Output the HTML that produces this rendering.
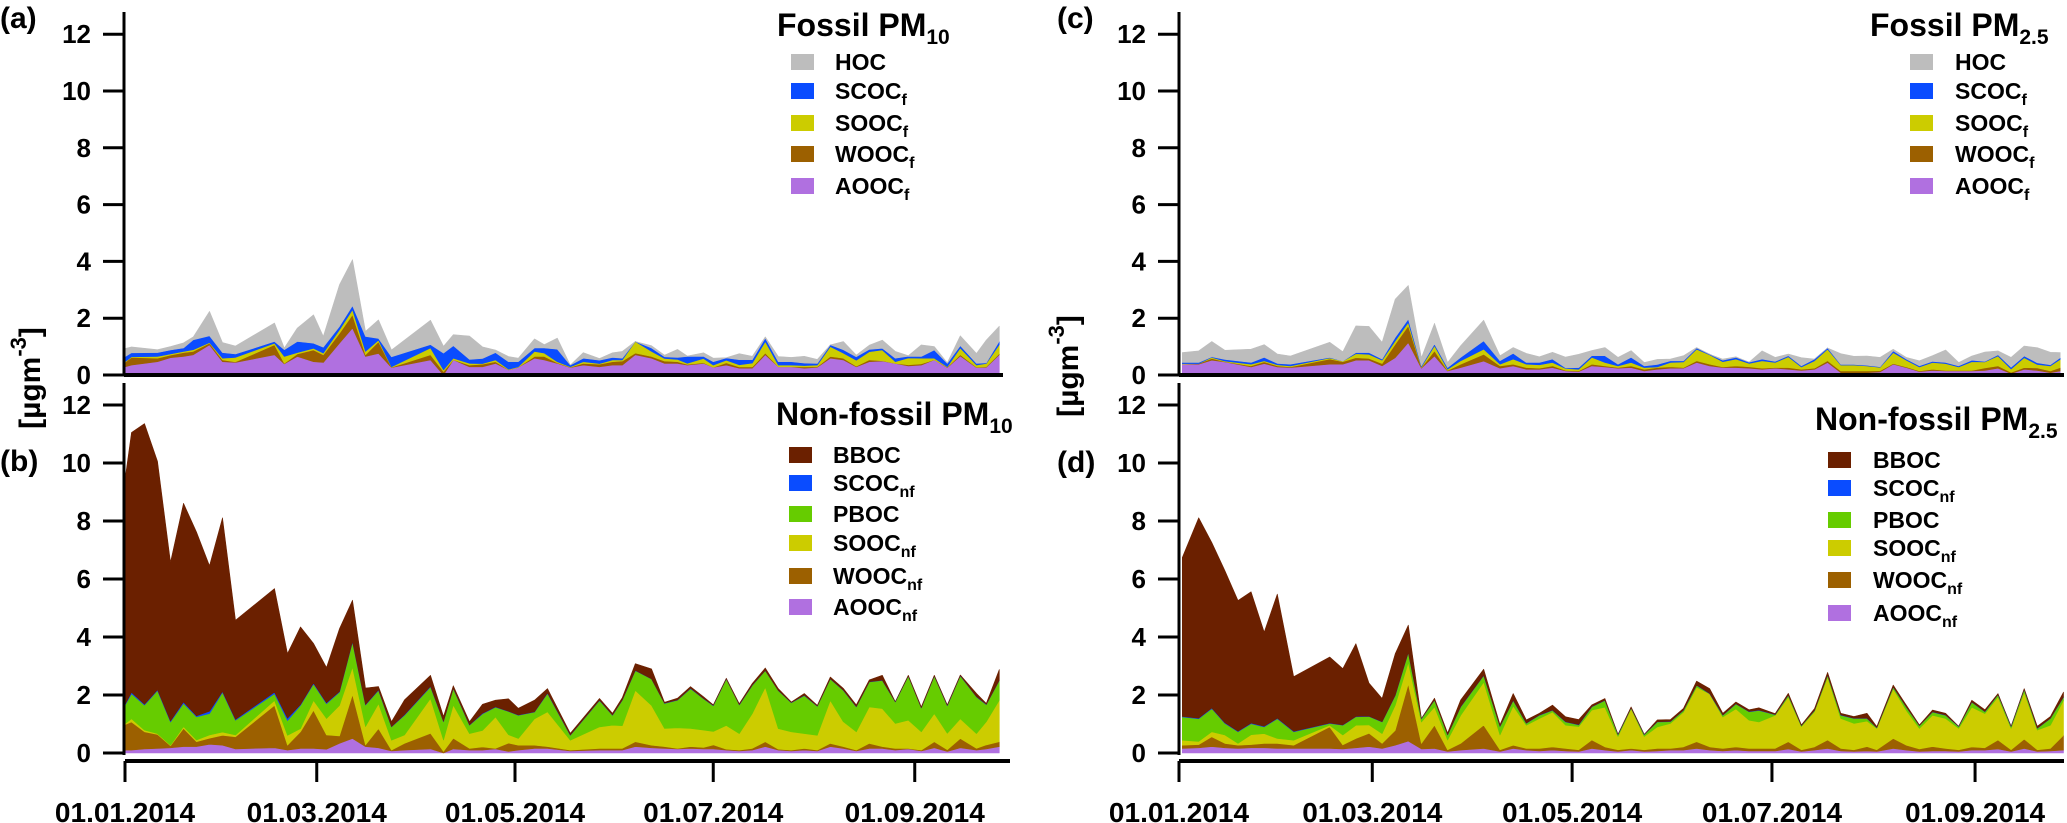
<!DOCTYPE html>
<html><head><meta charset="utf-8"><style>
html,body{margin:0;padding:0;background:#fff;}
svg{display:block;font-family:"Liberation Sans",Arial,sans-serif;font-weight:bold;}
</style></head><body>
<svg id="chart" width="2067" height="823" viewBox="0 0 2067 823" xmlns="http://www.w3.org/2000/svg">
<g id="marks"></g>
<g id="axes"></g>
<g>
<text x="0" y="28" font-size="30">(a)</text>
<text x="0" y="471" font-size="30">(b)</text>
<text x="1057" y="28" font-size="30">(c)</text>
<text x="1057" y="472" font-size="30">(d)</text>
<text transform="translate(40,378) rotate(-90)" text-anchor="middle" font-size="30">[µgm<tspan font-size="22" dy="-14">-3</tspan><tspan dy="14">]</tspan></text>
<text transform="translate(1078,366) rotate(-90)" text-anchor="middle" font-size="30">[µgm<tspan font-size="22" dy="-14">-3</tspan><tspan dy="14">]</tspan></text>
</g>
<g id="legends"></g>
</svg>
<script>
// ---------- Panel (a) Fossil PM10 ----------
const aDays=[0,2,10,14,18,21,26,30,34,46,49,53,58,61,66,70,74,78,82,94,98,101,106,110,114,118,121,126,129,133,137,141,146,150,153,157,162,166,170,173,178,181,185,189,193,197,201,205,209,213,217,221,225,229,233,237,241,245,249,253,257,262,265,269];
const aAOOC=[.29,.35,.47,.61,.65,.71,1.06,.47,.44,.71,.39,.65,.47,.44,1.12,1.65,.65,.76,.26,.53,0,.53,.29,.29,.41,.18,.27,.59,.53,.41,.26,.35,.29,.35,.35,.71,.59,.41,.41,.35,.41,.27,.35,.24,.24,.71,.29,.29,.24,.27,.59,.53,.29,.47,.49,.41,.32,.35,.53,.26,.67,.26,.27,.71];
const aWOOC=[.15,.27,.12,.09,.14,.12,.06,.06,.02,.35,.02,.09,.41,.27,.35,.47,.06,.41,.01,.18,.12,0,.06,.09,.06,0,0,.06,.12,.02,.01,.06,.09,.12,.14,.06,.06,.08,.06,.02,.02,0,.08,.04,.04,.06,0,0,.04,.02,.06,.06,.02,.06,.01,0,.04,.04,0,.01,.04,.01,.02,.04];
const aSOOC=[.02,.02,.06,.04,.04,.06,.02,.06,.16,.06,.24,.05,.06,.06,.12,.18,.12,.06,.02,.24,.06,.06,.06,.02,.06,.02,.02,.18,.12,.04,.02,.06,.02,.06,.04,.41,.18,.09,.08,.04,.15,.08,.09,.08,.14,.41,.06,.06,.05,.06,.35,.18,.21,.29,.38,.06,.24,.2,.06,.02,.24,.08,.12,.32];
const aSCOC=[.18,.14,.14,.14,.12,.35,.24,.2,.12,.06,.24,.39,.18,.21,.12,.14,.53,.06,.35,.12,.59,.44,.14,.18,.26,.27,.18,.12,.18,.44,.06,.12,.12,.09,.06,0,.12,.06,.07,.24,.08,.12,.08,.18,.12,.12,.12,.12,.09,.06,.06,.12,.12,.08,.06,.12,.06,.06,.29,.12,.08,.06,.02,.12];
const aHOC=[.29,.21,.1,.12,.18,.1,.86,.35,.28,.65,.06,.47,1.0,.38,1.47,1.62,.18,.65,.24,.86,.24,.39,.82,.41,.09,.18,.12,.32,.12,.39,0,.2,.06,.16,.24,0,.08,.06,.28,.02,.12,.12,.01,.21,.12,.04,.18,.15,.24,.14,0,.29,.06,.15,.29,.24,.02,.41,.12,.02,.35,.35,.8,.53];
// ---------- Panel (b) Non-fossil PM10 ----------
const bDays=[0,2,6,10,14,18,22,26,30,34,46,50,54,58,62,66,70,74,78,82,86,94,98,101,106,110,114,118,121,126,130,137,146,150,153,157,162,166,170,174,178,181,185,189,193,197,201,205,209,213,217,221,225,229,233,237,241,245,249,253,257,262,265,269];
const bAOOC=[.10,.10,.14,.16,.18,.22,.22,.30,.27,.14,.18,.10,.16,.16,.13,.33,.50,.22,.18,.07,.10,.14,0,.14,.10,.10,.14,.05,.10,.16,.16,.07,.1,.1,.1,.22,.18,.16,.14,.16,.14,.14,.1,.07,.1,.22,.1,.07,.1,.07,.22,.16,.07,.16,.16,.1,.14,.07,.18,.05,.18,.1,.14,.22];
const bWOOC=[.88,.97,.59,.48,.07,.63,.17,.21,.34,.42,1.46,.17,.57,1.31,.49,.26,1.51,.06,.66,.03,.23,.54,.05,.37,.06,.11,.02,.29,.17,.11,.06,.03,.06,.06,.06,.17,.09,.06,.02,.06,.05,.14,.03,.03,.06,.17,.03,.03,.06,.03,.11,.06,.03,.17,.06,.06,.02,.03,.21,.06,.32,.06,.14,.17];
const bSOOC=[.03,.11,.06,.03,.02,.06,.06,.11,.11,.06,.17,.34,.11,.34,.57,1.05,.95,.63,.86,.34,.29,1.2,.4,1.14,.51,.57,1.08,.29,.23,.91,1.2,.34,.74,.8,.78,1.77,1.37,.63,.71,.63,.6,.46,.82,.57,1.2,1.88,.71,.63,.51,.51,1.48,.86,.63,1.26,1.31,.86,.97,.63,.97,.57,.68,.51,.8,1.43];
const bPBOC=[.63,.86,.86,1.48,.8,.8,.8,.74,1.37,.51,.23,.51,.8,.57,.51,.46,.86,.74,.46,.46,.68,.4,.63,.57,.29,.57,.34,.8,.8,.23,.63,.17,.91,.34,.88,.68,.91,.86,.95,1.37,1.08,.89,1.6,.99,.97,.57,1.31,1.0,1.31,1.0,.74,1.08,.86,.86,.97,.74,1.52,.82,1.29,.95,1.48,1.26,.59,.68];
const bSCOC=[.03,.05,.03,.03,.03,.05,.03,.08,.03,.03,.06,.08,.03,.03,.03,.02,.02,.02,.02,.01,.02,.02,.01,.01,.01,.02,.01,.01,.01,.01,.02,.01,.01,.01,.01,.01,.01,.01,.01,.01,.01,.01,.01,.01,.01,.01,.01,.01,.01,.01,.01,.01,.01,.01,.01,.01,.01,.01,.01,.01,.01,.01,.01,.01];
const bBBOC=[7.76,8.96,9.68,7.88,5.48,6.85,6.34,5.02,5.99,3.42,3.57,2.23,2.68,1.37,1.22,2.17,1.43,.57,.11,.17,.51,.38,.17,.09,.11,.31,.23,.43,.23,.4,.15,.06,.06,.06,.08,.23,.34,.03,.06,.06,.06,.02,.02,.03,.06,.08,.06,.02,.06,.02,.06,.06,.06,.06,.17,0,.02,.03,.02,.02,.02,.11,.03,.37];
// ---------- Panel (c) Fossil PM2.5 ----------
const cDays=[1,6,10,14,22,26,30,34,46,50,54,58,62,66,70,74,78,82,86,93,98,102,106,110,114,118,122,126,130,134,138,142,146,150,154,158,162,166,170,174,178,182,186,190,194,198,202,206,210,214,218,222,226,230,234,238,242,246,250,254,258,262,266,269];
const cAOOC=[.38,.38,.52,.46,.28,.40,.28,.26,.38,.38,.52,.52,.32,.61,1.14,.24,.67,.14,.26,.49,.24,.32,.2,.2,.26,.14,.12,.32,.28,.24,.26,.14,.2,.24,.24,.44,.32,.26,.26,.24,.2,.24,.2,.16,.2,.44,.08,.08,.08,.11,.38,.26,.12,.16,.14,.14,.14,.16,.24,.05,.2,.16,.08,.14];
const cWOOC=[0,.02,.06,.01,.04,.06,.04,.02,.18,.09,.09,.06,.08,.47,.59,.02,.18,.02,.12,.24,.08,.06,.06,.04,.06,.02,.02,.06,.04,.02,.06,.06,.06,.05,.02,.06,.06,.02,.06,.05,.04,.02,.06,.04,.04,.06,.06,.06,.06,.04,.02,.02,.02,.04,.02,.02,.02,.09,.08,.04,.06,.09,.06,.12];
const cSOOC=[.02,0,.04,.02,.06,.04,.04,.04,.04,.02,.14,.15,.12,.12,.12,.02,.18,.04,.12,.18,.06,.18,.12,.12,.12,.07,.06,.24,.12,.06,.12,.06,.02,.15,.2,.41,.33,.19,.24,.12,.26,.18,.38,.08,.26,.41,.21,.21,.18,.12,.39,.24,.14,.24,.24,.12,.31,.21,.35,.12,.35,.12,.18,.29];
const cSCOC=[.04,.04,.02,.06,.06,.12,.05,.06,.02,0,.04,.06,.04,.12,.12,.04,.06,.06,.12,.29,.12,.2,.06,.08,.12,.02,.06,.06,.24,.06,.18,.06,.09,.06,.04,.04,.02,.05,.06,.04,.06,.04,.04,.04,.06,.04,.02,.02,.02,.02,.06,.04,.04,.04,.04,.04,.05,.02,.04,.06,.06,.06,.04,.06];
const cHOC=[.35,.41,.54,.32,.47,.45,.33,.29,.53,.33,.94,.92,.59,1.35,1.18,.29,.73,.18,.41,.73,.18,.21,.32,.2,.24,.38,.47,.18,.29,.24,.24,.12,.18,.06,.18,.02,0,.04,.02,0,.29,.14,.06,.29,0,0,.38,.29,.33,.33,.06,.06,.18,.2,.44,.12,.15,.33,.14,.35,.35,.53,.44,.18];
// ---------- Panel (d) Non-fossil PM2.5 ----------
const dDays=[1,6,10,14,18,22,26,30,35,46,50,54,58,62,66,70,74,78,82,86,93,98,102,106,110,114,118,122,126,130,134,138,142,146,150,154,158,162,166,170,174,177,182,186,190,194,198,202,206,210,213,218,222,226,230,234,238,242,246,250,254,258,262,266,270];
const dAOOC=[.16,.18,.22,.18,.16,.18,.18,.16,.16,.16,.14,.18,.22,.16,.27,.41,.14,.16,.05,.1,.16,.05,.16,.1,.07,.1,.07,.05,.16,.1,.05,.1,.05,.07,.1,.1,.16,.1,.07,.1,.07,.07,.07,.14,.05,.1,.16,.07,.05,.07,.05,.16,.1,.05,.07,.07,.05,.1,.1,.14,.05,.16,.05,.07,.1];
const dWOOC=[.11,.11,.34,.15,.11,.11,.15,.17,.11,.74,.14,.32,.46,.17,.51,1.97,.19,.8,.06,.23,.8,.06,.11,.06,.09,.11,.09,.06,.29,.11,.06,.06,.06,.09,.06,.11,.23,.11,.09,.11,.09,.09,.09,.25,.06,.11,.29,.09,.06,.15,.06,.34,.17,.09,.15,.09,.06,.11,.08,.31,.06,.32,.06,.09,.51];
const dSOOC=[.17,.11,.17,.29,.06,.34,.34,.17,.17,.06,.34,.46,.29,.34,.86,.74,.74,.63,.34,.97,1.48,.51,1.35,.8,1.03,1.2,.8,.8,1.03,1.37,.46,1.37,.46,.74,.86,1.2,1.88,1.83,1.08,1.31,.97,.91,1.14,1.54,.8,1.22,2.17,1.03,.91,.88,.74,1.71,1.2,.71,1.08,1.03,.74,1.37,1.18,1.48,.74,1.62,.68,.8,1.2];
const dPBOC=[.8,.78,.8,.4,.4,.38,.23,.68,.29,.06,.34,.29,.29,.4,.34,.34,.11,.23,.17,.29,.23,.29,.19,.06,.11,.06,.11,.06,.11,.23,.06,.02,.06,.17,.06,.06,.06,0,.06,.17,.29,.4,.02,.06,.03,.03,.06,.11,.17,.09,.02,.06,.11,.09,.11,.11,.06,.17,.06,.08,.06,.09,.06,.23,.11];
const dSCOC=[.02,.02,.02,.02,.02,.02,.02,.02,.02,.01,.01,.01,.01,.01,.01,.01,.01,.01,.01,.01,.01,.01,.01,.01,.01,.01,.01,.01,.01,.01,.01,.01,.01,.01,.01,.01,.01,.01,.01,.01,.01,.01,.01,.01,.01,.01,.01,.01,.01,.01,.01,.01,.01,.01,.01,.01,.01,.01,.01,.01,.01,.01,.01,.01,.01];
const dBBOC=[5.48,6.91,5.71,5.25,4.51,4.53,3.25,4.28,1.88,2.28,1.94,2.51,1.14,.8,1.43,.94,0,.06,.06,.23,.21,.06,.23,.11,.06,.17,.17,.17,.06,.06,0,.03,0,.06,.06,.06,.14,.17,.06,.06,.06,.08,.03,.06,.02,.06,.09,.06,.06,.17,.03,.06,.06,.02,.06,.06,0,.06,.06,.03,0,.02,.06,.06,.17];
// ---------- Axis ticks ----------
const yTicks=[0,2,4,6,8,10,12];
const dateTickDays=[0,59,120,181,243];
const dateTickLabels=["01.01.2014","01.03.2014","01.05.2014","01.07.2014","01.09.2014"];

const NS="http://www.w3.org/2000/svg";
const marks=document.getElementById('marks');
const axes=document.getElementById('axes');
const legends=document.getElementById('legends');
const COL={HOC:"#bdbdbd",SCOC:"#0a4cff",SOOC:"#cccc00",WOOC:"#9c6000",AOOC:"#b070e0",PBOC:"#66cc00",BBOC:"#6b2000"};

function mk(tag,attrs,parent){const e=document.createElementNS(NS,tag);for(const k in attrs)e.setAttribute(k,attrs[k]);parent.appendChild(e);return e;}

function xScale(x0,pxPerDay){return d=>x0+d*pxPerDay;}
function yScale(y0,pxPerUnit){return v=>y0-v*pxPerUnit;}

function drawStack(panel,days,layers,xs,ys){
  const cum=days.map(()=>0);
  layers.forEach(([key,vals])=>{
    const lower=cum.slice();
    for(let i=0;i<days.length;i++)cum[i]+= (vals[i]||0);
    let pts=[];
    for(let i=0;i<days.length;i++)pts.push(xs(days[i]).toFixed(1)+","+ys(cum[i]).toFixed(1));
    for(let i=days.length-1;i>=0;i--)pts.push(xs(days[i]).toFixed(1)+","+ys(lower[i]).toFixed(1));
    const p=mk('polygon',{points:pts.join(' '),fill:COL[key],stroke:COL[key],'stroke-width':'0.6','stroke-linejoin':'round'},marks);
    
    
  });
}

function drawYAxis(panel,xAxis,yTop,yBot,ys){
  const l=mk('line',{x1:xAxis,y1:yTop,x2:xAxis,y2:yBot,stroke:'#000','stroke-width':3},axes);
  
  
  yTicks.forEach(t=>{
    const y=ys(t);
    const tk=mk('line',{x1:xAxis-21,y1:y,x2:xAxis,y2:y,stroke:'#000','stroke-width':3},axes);
    
    
    const tx=mk('text',{x:xAxis-33,y:y+9,'text-anchor':'end','font-size':26},axes);
    tx.textContent=t;
    
    
  });
}

function drawXAxis(panel,x1,x2,xs){
  const l=mk('line',{x1:x1,y1:761,x2:x2,y2:761,stroke:'#000','stroke-width':4},axes);
  
  
  dateTickDays.forEach((d,i)=>{
    const x=xs(d);
    const tk=mk('line',{x1:x,y1:761,x2:x,y2:782,stroke:'#000','stroke-width':3},axes);
    
    
    const tx=mk('text',{x:x,y:822,'text-anchor':'middle','font-size':28},axes);
    tx.textContent=dateTickLabels[i];
    
    
  });
}

function zeroLine(panel,x1,x2,y){
  const l=mk('line',{x1:x1,y1:y,x2:x2,y2:y,stroke:'#000','stroke-width':4},axes);
  
  
}

function legend(panel,titleMain,titleSub,tx,ty,sx,txx,items){
  const t=mk('text',{x:tx,y:ty,'font-size':32},legends);
  
  
  t.appendChild(document.createTextNode(titleMain));
  const s=mk('tspan',{'font-size':21,dy:8},t);s.textContent=titleSub;
  items.forEach(([key,label,sub,yc])=>{
    const r=mk('rect',{x:sx,y:yc-8,width:23,height:16,fill:COL[key]},legends);
    
    
    const e=mk('text',{x:txx,y:yc+8,'font-size':23},legends);
    
    
    e.appendChild(document.createTextNode(label));
    if(sub){const ss=mk('tspan',{'font-size':16,dy:6},e);ss.textContent=sub;}
  });
}

const xL=xScale(125,3.25), xR=xScale(1179,3.276);
const yA=yScale(375,28.4), yB=yScale(753,29.0);

drawStack('panel-a',aDays,[['AOOC',aAOOC],['WOOC',aWOOC],['SOOC',aSOOC],['SCOC',aSCOC],['HOC',aHOC]],xL,yA);
drawStack('panel-b',bDays,[['AOOC',bAOOC],['WOOC',bWOOC],['SOOC',bSOOC],['PBOC',bPBOC],['SCOC',bSCOC],['BBOC',bBBOC]],xL,yB);
drawStack('panel-c',cDays,[['AOOC',cAOOC],['WOOC',cWOOC],['SOOC',cSOOC],['SCOC',cSCOC],['HOC',cHOC]],xR,yA);
drawStack('panel-d',dDays,[['AOOC',dAOOC],['WOOC',dWOOC],['SOOC',dSOOC],['PBOC',dPBOC],['SCOC',dSCOC],['BBOC',dBBOC]],xR,yB);

drawYAxis('panel-a',124,12,375,yA);
drawYAxis('panel-b',124,383,755,yB);
drawYAxis('panel-c',1179,12,375,yA);
drawYAxis('panel-d',1179,383,755,yB);
zeroLine('panel-a',124,1003,375);
zeroLine('panel-c',1179,2064,375);
drawXAxis('panel-b',125,1010,xL);
drawXAxis('panel-d',1179,2064,xR);

const fossilY=[62,91,123,154,186];
legend('panel-a','Fossil PM','10',777,36,791,835,[['HOC','HOC','',fossilY[0]],['SCOC','SCOC','f',fossilY[1]],['SOOC','SOOC','f',fossilY[2]],['WOOC','WOOC','f',fossilY[3]],['AOOC','AOOC','f',fossilY[4]]]);
legend('panel-c','Fossil PM','2.5',1870,36,1910,1955,[['HOC','HOC','',fossilY[0]],['SCOC','SCOC','f',fossilY[1]],['SOOC','SOOC','f',fossilY[2]],['WOOC','WOOC','f',fossilY[3]],['AOOC','AOOC','f',fossilY[4]]]);
legend('panel-b','Non-fossil PM','10',776,425,789,833,[['BBOC','BBOC','',455],['SCOC','SCOC','nf',483],['PBOC','PBOC','',514],['SOOC','SOOC','nf',543],['WOOC','WOOC','nf',576],['AOOC','AOOC','nf',607]]);
legend('panel-d','Non-fossil PM','2.5',1815,430,1828,1873,[['BBOC','BBOC','',460],['SCOC','SCOC','nf',488],['PBOC','PBOC','',520],['SOOC','SOOC','nf',548],['WOOC','WOOC','nf',580],['AOOC','AOOC','nf',613]]);
</script>
</body></html>
